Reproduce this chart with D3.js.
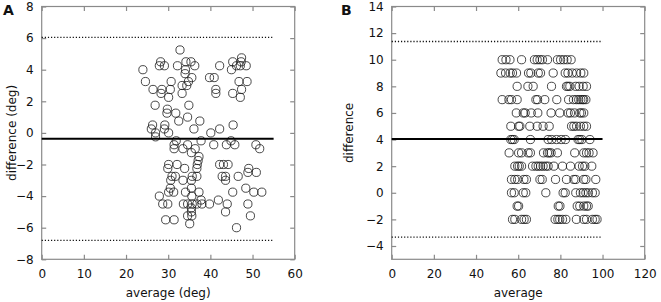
<!DOCTYPE html>
<html>
<head>
<meta charset="utf-8">
<script src="https://cdn.jsdelivr.net/npm/d3@7"></script>
<style>
  body { margin: 0; background: #fff; }
  svg text { font-family: "DejaVu Sans", sans-serif; fill: #111; }
</style>
</head>
<body>
<svg id="chart" width="661" height="302"></svg>
<script>
// ---- panel A : average vs difference (deg) ----
const avgA = [
  32.8, 24.0, 28.2, 27.9, 29.1, 32.2, 34.2, 35.4, 36.3, 34.1, 34.0, 35.6, 33.3, 34.4, 34.8,
  24.6, 30.7, 33.3, 26.4, 28.5, 30.5, 28.3, 30.1, 26.9, 34.9, 29.8, 29.7, 31.8, 34.6, 32.5,
  37.5, 26.3, 26.0, 29.2, 29.1, 27.0, 27.0, 30.1, 36.1, 40.1, 42.2, 45.4,
  39.8, 40.9, 42.2, 41.3, 41.3, 45.0, 45.3, 46.2, 47.3, 47.4, 47.1, 48.5, 46.8, 48.7, 45.3,
  47.4, 47.1,
  31.9, 31.4, 31.4, 33.5, 34.6, 35.5, 36.4, 37.8, 40.8, 43.8, 44.9, 45.8, 50.8, 51.7, 37.3,
  37.1, 30.1, 29.9, 32.1, 36.9, 33.9, 36.8, 42.2, 43.1, 44.2, 49.1, 48.9, 50.9, 46.6, 42.8,
  43.6, 43.6, 30.9, 31.7, 30.6, 33.5, 35.7, 35.5, 36.8, 30.5, 30.1, 31.3, 34.1, 35.5, 37.3,
  45.3, 48.4, 50.3, 52.2, 27.9, 28.7, 29.9, 33.6, 34.6, 35.7, 36.8, 37.8, 38.0, 39.8, 41.9,
  44.0, 48.9, 35.6, 35.5, 35.5, 34.6, 35.6, 43.6, 49.5, 29.4, 31.4, 35.1, 46.2
];
const diffA = [
  5.25, 4.0, 4.5, 4.25, 4.25, 4.25, 4.5, 4.5, 4.25, 4.0, 3.75, 3.5, 3.0, 3.0, 3.25,
  3.25, 3.25, 2.5, 2.75, 2.75, 2.75, 2.5, 2.25, 1.75, 1.75, 1.5, 1.25, 1.25, 1.0, 0.75,
  0.75, 0.5, 0.25, 0.5, 0.25, 0.0, -0.25, 0.0, 0.25, 0.0, 0.25, 0.5,
  3.5, 3.5, 4.25, 2.75, 2.5, 4.0, 4.5, 4.25, 4.5, 4.75, 4.25, 4.25, 3.25, 3.25, 2.5,
  2.75, 2.25,
  -0.5, -0.75, -1.0, -1.0, -0.75, -1.25, -1.0, -0.5, -0.75, -0.75, -0.5, -0.75, -0.75, -1.0, -1.5,
  -1.75, -2.0, -2.25, -2.0, -2.0, -2.25, -2.25, -2.0, -2.0, -2.0, -2.25, -2.5, -2.5, -2.75, -2.75,
  -2.75, -3.0, -2.75, -2.75, -3.0, -3.0, -2.75, -3.0, -2.75, -3.5, -3.75, -3.75, -3.75, -3.5, -3.75,
  -3.75, -3.5, -3.75, -3.75, -4.0, -4.5, -4.5, -4.5, -4.5, -4.5, -4.5, -4.25, -4.5, -4.5, -4.25,
  -4.5, -4.5, -4.0, -4.75, -5.0, -5.25, -5.25, -5.0, -5.25, -5.5, -5.5, -5.75, -6.0
];
const limitsA = [6.05, -0.37, -6.8];   // upper LoA, mean, lower LoA

// ---- panel B : average vs difference ----
const levelsB = [10, 9, 8, 7, 6, 5, 4, 3, 2, 1, 0, -1, -2];
const avgB = [
  [52.4, 54.2, 56.1, 61.6, 67.7, 69.0, 70.3, 71.5, 73.9, 78.6, 80.1, 81.6, 83.2, 85.1],
  [51.8, 54.0, 56.2, 57.3, 59.2, 64.9, 66.0, 69.5, 70.6, 76.6, 82.3, 83.6, 85.6, 87.7, 89.7, 91.1],
  [59.5, 64.6, 67.1, 75.8, 82.9, 83.6, 84.5, 87.3, 88.9, 90.8, 92.4],
  [52.4, 55.6, 56.8, 59.5, 68.4, 69.2, 72.6, 78.3, 83.9, 86.2, 87.6, 88.7, 89.7, 90.6, 91.1, 92.1],
  [59.1, 62.4, 63.3, 66.2, 69.3, 75.6, 79.7, 83.7, 84.8, 86.7, 89.2, 90.0, 91.1],
  [56.5, 60.2, 60.8, 65.5, 69.0, 71.8, 74.7, 85.3, 86.4, 87.7, 89.5, 91.1, 92.4],
  [56.5, 57.3, 58.1, 65.8, 74.2, 75.9, 78.2, 80.4, 82.4, 88.4, 89.2, 90.2, 94.0],
  [55.7, 60.2, 61.6, 64.7, 65.8, 72.0, 73.9, 74.7, 75.6, 78.6, 86.8, 91.1, 92.4, 93.6, 95.5],
  [58.4, 59.7, 60.5, 61.6, 66.8, 68.4, 69.5, 70.6, 71.8, 73.1, 74.2, 76.9, 81.0, 84.8, 88.9, 90.5, 91.6, 94.9],
  [56.8, 58.4, 59.7, 62.7, 63.9, 70.3, 71.4, 77.7, 82.9, 86.4, 87.3, 91.1, 92.1, 96.8],
  [56.8, 58.1, 62.4, 63.6, 73.1, 81.3, 82.3, 87.3, 89.5, 90.8, 92.1, 93.3, 95.2, 96.5],
  [59.5, 60.2, 79.0, 79.8, 88.0, 89.2, 91.1, 92.4, 93.2],
  [57.3, 58.4, 61.6, 62.8, 63.9, 77.5, 78.8, 79.7, 81.0, 82.6, 87.6, 91.1, 92.4, 95.2, 96.5, 97.4]
];
const limitsB = [11.37, 4.04, -3.33];

const svg = d3.select('#chart')

function drawPanel (opts) {
  const x = d3.scaleLinear().domain(opts.xDomain).range([opts.left, opts.left + 253])
  const y = d3.scaleLinear().domain(opts.yDomain).range([259.3, 6.5])
  const g = svg.append('g')
  const tickLen = 4.5

  // frame
  g.append('rect')
    .attr('x', x.range()[0]).attr('y', y.range()[1])
    .attr('width', 253).attr('height', y.range()[0] - y.range()[1])
    .attr('fill', 'none').attr('stroke', '#8a8a8a').attr('stroke-width', 1.2)

  // inward ticks on all four sides (gnuplot style)
  const tickStyle = (s) => s.call(a => a.select('.domain').remove())
    .call(a => a.selectAll('.tick line').attr('stroke', '#8a8a8a').attr('stroke-width', 1.2))
  g.append('g').attr('transform', `translate(0,${y.range()[0]})`)
    .call(d3.axisBottom(x).tickValues(opts.xTicks).tickSize(-tickLen).tickPadding(10).tickFormat(d3.format('d')))
    .call(tickStyle)
    .call(a => a.selectAll('text').attr('font-size', 12).attr('fill', '#111'))
  g.append('g').attr('transform', `translate(0,${y.range()[1]})`)
    .call(d3.axisTop(x).tickValues(opts.xTicks).tickSize(-tickLen).tickFormat(''))
    .call(tickStyle)
  g.append('g').attr('transform', `translate(${x.range()[0]},0)`)
    .call(d3.axisLeft(y).tickValues(opts.yTicks).tickSize(-tickLen).tickPadding(8).tickFormat(d3.format('d')))
    .call(tickStyle)
    .call(a => a.selectAll('text').attr('font-size', 12).attr('fill', '#111'))
  g.append('g').attr('transform', `translate(${x.range()[1]},0)`)
    .call(d3.axisRight(y).tickValues(opts.yTicks).tickSize(-tickLen).tickFormat(''))
    .call(tickStyle)

  // mean and limits of agreement
  const [hi, mean, lo] = opts.limits
  ;[hi, lo].forEach(v => {
    g.append('line')
      .attr('x1', x(0)).attr('x2', x(opts.lineEnd)).attr('y1', y(v)).attr('y2', y(v))
      .attr('stroke', '#111').attr('stroke-width', 1.3).attr('stroke-dasharray', '1.2,1.9')
  })

  // points
  g.append('g').selectAll('circle')
    .data(opts.points)
    .join('circle')
      .attr('cx', d => x(d[0]))
      .attr('cy', d => y(d[1]))
      .attr('r', 4.1)
      .attr('fill', 'none')
      .attr('stroke', '#1a1a1a')
      .attr('stroke-width', 0.8)

  g.append('line')
    .attr('x1', x(0)).attr('x2', x(opts.lineEnd)).attr('y1', y(mean)).attr('y2', y(mean))
    .attr('stroke', '#000').attr('stroke-width', 1.8)

  // titles
  g.append('text')
    .attr('x', (x.range()[0] + x.range()[1]) / 2).attr('y', 297)
    .attr('text-anchor', 'middle').attr('font-size', 12)
    .text(opts.xTitle)
  g.append('text')
    .attr('transform', `translate(${opts.yTitleX},${(y.range()[0] + y.range()[1]) / 2}) rotate(-90)`)
    .attr('text-anchor', 'middle').attr('dominant-baseline', 'central').attr('font-size', 12)
    .text(opts.yTitle)
  g.append('text')
    .attr('x', opts.tagX).attr('y', 15)
    .attr('font-size', 14).attr('font-weight', 'bold')
    .text(opts.tag)
}

drawPanel({
  left: 41.7,
  xDomain: [0, 60], yDomain: [-8, 8],
  xTicks: d3.range(0, 61, 10), yTicks: d3.range(-8, 9, 2),
  points: avgA.map((a, i) => [a, diffA[i]]),
  limits: limitsA, lineEnd: 55,
  xTitle: 'average (deg)', yTitle: 'difference (deg)', yTitleX: 12,
  tag: 'A', tagX: 3
})

drawPanel({
  left: 391.7,
  xDomain: [0, 120], yDomain: [-5, 14],
  xTicks: d3.range(0, 121, 20), yTicks: d3.range(-4, 15, 2),
  points: levelsB.flatMap((lv, i) => avgB[i].map(a => [a, lv])),
  limits: limitsB, lineEnd: 100,
  xTitle: 'average', yTitle: 'difference', yTitleX: 349,
  tag: 'B', tagX: 341
})
</script>
</body>
</html>
